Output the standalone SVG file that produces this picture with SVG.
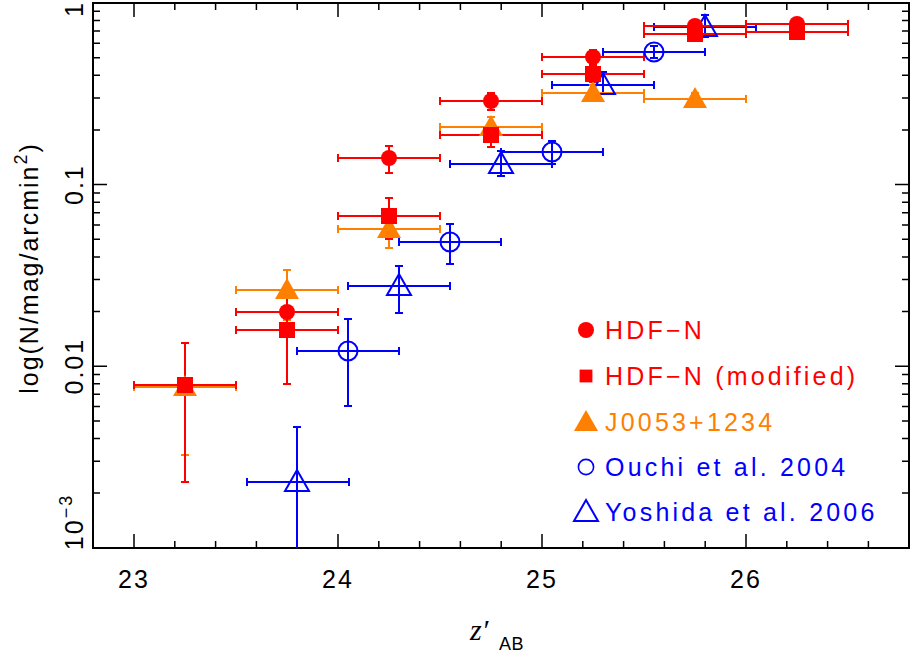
<svg xmlns="http://www.w3.org/2000/svg" width="911" height="653" viewBox="0 0 911 653">
<style>
text{font-family:"Liberation Sans","DejaVu Sans",sans-serif;font-size:25px;letter-spacing:2px}
#legend text{letter-spacing:3.2px}
.ax{fill:none;stroke:#000;stroke-width:2}
.tk{fill:none;stroke:#000;stroke-width:1.5}
.er{fill:none;stroke:#f00;stroke-width:2}
.eo{fill:none;stroke:#ff8000;stroke-width:2}
.eb{fill:none;stroke:#00f;stroke-width:2}
.fr{fill:#f00}
.fo{fill:#ff8000}
.ob{fill:none;stroke:#00f;stroke-width:2}
</style>
<defs>
<circle id="fc" r="8"/>
<rect id="fs" x="-8" y="-8" width="16" height="16"/>
<path id="ft" d="M0 -12 L12 9 L-12 9 Z"/>
<circle id="oc" r="9.5"/>
<path id="ot" d="M0 -12 L12 9 L-12 9 Z"/>
</defs>
<g id="axes">
<rect class="ax" x="93" y="3" width="816" height="545"/>
<path class="tk" d="M134 548v-14M338 548v-14M542 548v-14M746 548v-14M134 3v14M338 3v14M542 3v14M746 3v14
M174.8 548v-7M215.6 548v-7M256.4 548v-7M297.2 548v-7M378.8 548v-7M419.6 548v-7M460.4 548v-7M501.2 548v-7M582.8 548v-7M623.6 548v-7M664.4 548v-7M705.2 548v-7M786.8 548v-7M827.6 548v-7M868.4 548v-7
M174.8 3v7M215.6 3v7M256.4 3v7M297.2 3v7M378.8 3v7M419.6 3v7M460.4 3v7M501.2 3v7M582.8 3v7M623.6 3v7M664.4 3v7M705.2 3v7M786.8 3v7M827.6 3v7M868.4 3v7
M93 184.6h14M93 366.2h14M909 184.6h-14M909 366.2h-14
M93 129.9h7M93 98h7M93 75.3h7M93 57.7h7M93 43.3h7M93 31.1h7M93 20.6h7M93 11.3h7
M93 311.5h7M93 279.6h7M93 256.9h7M93 239.3h7M93 224.9h7M93 212.7h7M93 202.2h7M93 192.9h7
M93 493.1h7M93 461.2h7M93 438.5h7M93 420.9h7M93 406.5h7M93 394.3h7M93 383.8h7M93 374.5h7
M909 129.9h-7M909 98h-7M909 75.3h-7M909 57.7h-7M909 43.3h-7M909 31.1h-7M909 20.6h-7M909 11.3h-7
M909 311.5h-7M909 279.6h-7M909 256.9h-7M909 239.3h-7M909 224.9h-7M909 212.7h-7M909 202.2h-7M909 192.9h-7
M909 493.1h-7M909 461.2h-7M909 438.5h-7M909 420.9h-7M909 406.5h-7M909 394.3h-7M909 383.8h-7M909 374.5h-7"/>
<g text-anchor="middle">
<text x="134" y="588">23</text><text x="338" y="588">24</text><text x="542" y="588">25</text><text x="746" y="588">26</text>
<text transform="translate(83,9) rotate(-90)">1</text>
<text transform="translate(83,184.6) rotate(-90)">0.1</text>
<text transform="translate(83,366.2) rotate(-90)">0.01</text>
<text transform="translate(83,522) rotate(-90)">10<tspan dy="-11" font-size="18">−3</tspan></text>
<text transform="translate(38,268) rotate(-90)">log(N/mag/arcmin<tspan dy="-11" font-size="18">2</tspan><tspan dy="11">)</tspan></text>
</g>
<text x="470" y="640" style="font-family:'Liberation Serif',serif;font-style:italic;font-size:30px;letter-spacing:0">z′</text>
<text x="499" y="650" style="font-size:18px;letter-spacing:0.5px">AB</text>
</g>
<g id="connectors">
<path class="eb" d="M247 482H349M247 478v8M349 478v8M297 427V548M293 427h8
M348 286H450M348 282v8M450 282v8M399 266V313M395 266h8M395 313h8
M450 164H552M450 160v8M552 160v8M501 151V176M497 151h8M497 176h8
M552 85H654M552 81v8M654 81v8M603 72V93M599 72h8M599 93h8
M654 27H756M654 23v8M756 23v8M705 15V37M701 15h8M701 37h8"/>
<path class="eb" d="M297 351H399M297 347v8M399 347v8M348 319V406M344 319h8M344 406h8
M399 242H501M399 238v8M501 238v8M450 224V264M446 224h8M446 264h8
M501 152H603M501 148v8M603 148v8M552 141V164M548 141h8M548 164h8
M603 52H705M603 48v8M705 48v8M654 46V58M650 46h8M650 58h8"/>
<path class="eo" d="M134 387H236M134 383v8M236 383v8M185 343V455M181 343h8M181 455h8
M236 290H338M236 286v8M338 286v8M287 270V320M283 270h8M283 320h8
M338 229H440M338 225v8M440 225v8M389 209V248M385 209h8M385 248h8
M440 127H542M440 123v8M542 123v8M491 117V140M487 117h8M487 140h8
M542 93H644M542 89v8M644 89v8M593 85V101M589 85h8M589 101h8
M644 99H746M644 95v8M746 95v8M695 93V107M691 93h8M691 107h8"/>
<path class="er" d="M134 385H236M134 381v8M236 381v8M185 343V482M181 343h8M181 482h8
M236 330H338M236 326v8M338 326v8M287 294V384M283 294h8M283 384h8
M338 216H440M338 212v8M440 212v8M389 198V239M385 198h8M385 239h8
M440 135H542M440 131v8M542 131v8M491 124V147M487 124h8M487 147h8
M542 74H644M542 70v8M644 70v8M593 67V82M589 67h8M589 82h8
M644 34H746M644 30v8M746 30v8M695 28V40M691 28h8
M746 32H848M746 28v8M848 28v8M797 26V38"/>
<path class="er" d="M236 312H338M236 308v8M338 308v8M287 304V320
M338 158H440M338 154v8M440 154v8M389 146V173M385 146h8M385 173h8
M440 101H542M440 97v8M542 97v8M491 93V110M487 93h8M487 110h8
M542 57H644M542 53v8M644 53v8M593 50V65M589 50h8M589 65h8
M644 26H746M644 22v8M746 22v8
M746 24H848M746 20v8M848 20v8"/>
</g>
<g id="yoshida">
<use href="#ot" class="ob" x="297" y="482"/><use href="#ot" class="ob" x="399" y="286"/><use href="#ot" class="ob" x="501" y="164"/><use href="#ot" class="ob" x="603" y="85"/><use href="#ot" class="ob" x="705" y="27"/>
</g>
<g id="ouchi">
<use href="#oc" class="ob" x="348" y="351"/><use href="#oc" class="ob" x="450" y="242"/><use href="#oc" class="ob" x="552" y="152"/><use href="#oc" class="ob" x="654" y="52"/>
</g>
<g id="j0053">
<use href="#ft" class="fo" x="185" y="387"/><use href="#ft" class="fo" x="287" y="290"/><use href="#ft" class="fo" x="389" y="229"/><use href="#ft" class="fo" x="491" y="127"/><use href="#ft" class="fo" x="593" y="93"/><use href="#ft" class="fo" x="695" y="99"/>
</g>
<g id="hdfn-mod">
<use href="#fs" class="fr" x="185" y="385"/><use href="#fs" class="fr" x="287" y="330"/><use href="#fs" class="fr" x="389" y="216"/><use href="#fs" class="fr" x="491" y="135"/><use href="#fs" class="fr" x="593" y="74"/><use href="#fs" class="fr" x="695" y="34"/><use href="#fs" class="fr" x="797" y="32"/>
</g>
<g id="hdfn">
<use href="#fc" class="fr" x="287" y="312"/><use href="#fc" class="fr" x="389" y="158"/><use href="#fc" class="fr" x="491" y="101"/><use href="#fc" class="fr" x="593" y="57"/><use href="#fc" class="fr" x="695" y="26"/><use href="#fc" class="fr" x="797" y="24"/>
</g>
<g id="legend">
<use href="#fc" class="fr" x="586" y="330"/><text x="605" y="339" fill="#f00">HDF−N</text>
<use href="#fs" class="fr" x="586" y="376" transform="translate(586,376) scale(0.8) translate(-586,-376)"/><text x="605" y="385" fill="#f00">HDF−N (modified)</text>
<use href="#ft" class="fo" x="586" y="422"/><text x="605" y="431" fill="#ff8000">J0053+1234</text>
<use href="#oc" class="ob" x="586" y="467" transform="translate(586,467) scale(0.8) translate(-586,-467)"/><text x="605" y="476" fill="#00f">Ouchi et al. 2004</text>
<use href="#ot" class="ob" x="586" y="512"/><text x="605" y="521" fill="#00f">Yoshida et al. 2006</text>
</g>
</svg>
